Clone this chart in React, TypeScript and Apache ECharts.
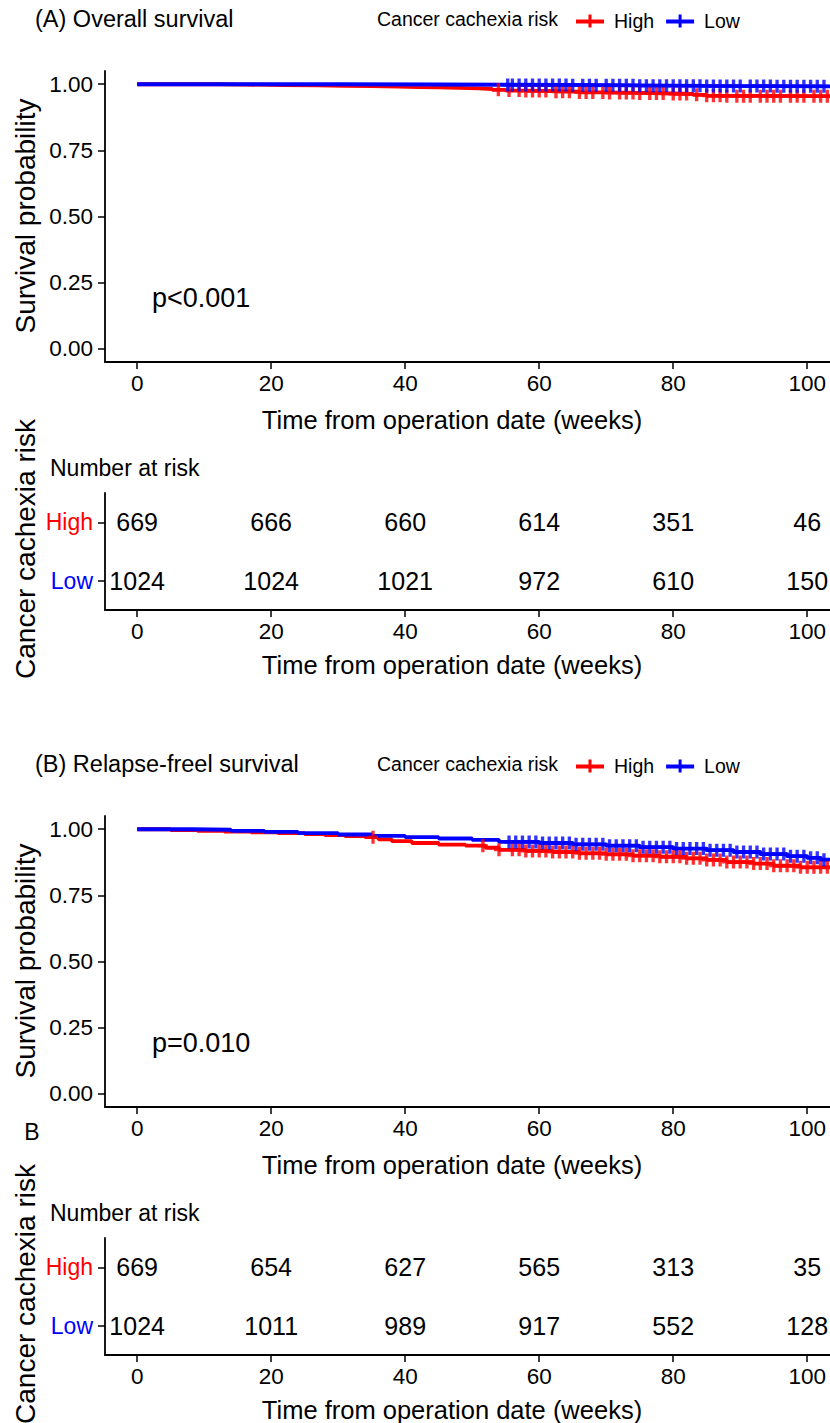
import React, { useEffect, useRef } from "react";
import * as echarts from "echarts";

// ---------- data ----------
const timeTicks = [0, 20, 40, 60, 80, 100];
const survTicks = [0, 0.25, 0.5, 0.75, 1];
const groups = ["Low", "High"];

// Overall survival, Kaplan-Meier steps [week, survival]
const osHigh: [number, number][] = [
  [0, 1], [12, 0.9985], [16, 0.997], [22, 0.9955], [27, 0.994], [31, 0.9925], [35, 0.991],
  [39, 0.9895], [42, 0.988], [45, 0.986], [48, 0.984], [51, 0.982], [53, 0.979], [55, 0.976],
  [58, 0.974], [62, 0.972], [66, 0.969], [70, 0.967], [75, 0.965], [80, 0.963], [83, 0.96],
  [85, 0.956], [88, 0.955], [104, 0.955],
];
const osLow: [number, number][] = [
  [0, 1], [30, 0.999], [45, 0.998], [55, 0.997], [65, 0.996], [75, 0.994], [85, 0.993],
  [95, 0.992], [104, 0.992],
];
const osHighCensor = [53.9, 55.5, 57, 58, 59, 60, 61, 62.5, 63.5, 64.5, 66, 67, 68, 69.5, 70.5, 72, 73, 74, 75,
  76.5, 77.5, 78.5, 80, 81, 82, 83.5, 85, 86, 87, 88, 89.5, 90.5, 91.5, 93, 94, 95, 96, 97.5, 98.5, 99.5,
  101, 102, 103];
const osLowCensor = [55.3, 56, 57, 58, 59, 60, 61, 62, 63, 64, 65, 66.5, 67.5, 68.5, 70, 71, 72, 73, 74, 75, 76,
  77, 78, 79, 80, 81, 82, 83, 84, 85, 86, 87, 88, 89, 90, 91.5, 92.5, 93.5, 94.5, 95.5, 96.5, 97.5, 98.5,
  99.5, 100.5, 101.5, 102.5];

// Relapse-free survival
const rfsHigh: [number, number][] = [
  [0, 1], [5, 0.997], [9, 0.994], [13, 0.991], [17, 0.988], [21, 0.985], [25, 0.982], [28, 0.978],
  [31, 0.974], [34, 0.97], [36, 0.962], [38, 0.955], [41, 0.948], [45, 0.942], [49, 0.938],
  [52, 0.93], [54, 0.922], [58, 0.918], [62, 0.914], [66, 0.909], [70, 0.905], [74, 0.9],
  [78, 0.896], [82, 0.89], [85, 0.884], [88, 0.876], [92, 0.87], [95, 0.862], [99, 0.856], [104, 0.856],
];
const rfsLow: [number, number][] = [
  [0, 1], [8, 0.998], [14, 0.994], [19, 0.99], [24, 0.985], [30, 0.98], [35, 0.975], [40, 0.97],
  [45, 0.965], [50, 0.96], [54, 0.952], [60, 0.948], [65, 0.943], [70, 0.938], [75, 0.932],
  [80, 0.927], [85, 0.921], [89, 0.914], [93, 0.906], [97, 0.898], [100, 0.892], [102, 0.885], [104, 0.885],
];
const rfsHighCensor = [35.2, 51.6, 54, 56, 57, 58, 59, 60, 61, 62, 63, 64, 65, 66, 67, 68, 69, 70, 71, 72, 73,
  74, 75, 76, 77, 78, 79, 80, 81, 82, 83, 84, 85, 86, 87, 88, 89, 90, 91, 92, 93, 94, 95, 96, 97, 98, 99,
  100, 101, 102, 103];
const rfsLowCensor = [55.5, 56.5, 57.5, 58.5, 59.5, 60.5, 61.5, 62.5, 63.5, 64.5, 65.5, 66.5, 67.5, 68.5, 69.5,
  70.5, 71.5, 72.5, 73.5, 74.5, 75.5, 76.5, 77.5, 78.5, 79.5, 80.5, 81.5, 82.5, 83.5, 84.5, 85.5, 86.5,
  87.5, 88.5, 89.5, 90.5, 91.5, 92.5, 93.5, 94.5, 95.5, 96.5, 97.5, 98.5, 99.5, 100.5, 101.5, 102.5];

// Number at risk
const riskOsHigh = [669, 666, 660, 614, 351, 46];
const riskOsLow = [1024, 1024, 1021, 972, 610, 150];
const riskRfsHigh = [669, 654, 627, 565, 313, 35];
const riskRfsLow = [1024, 1011, 989, 917, 552, 128];

// ---------- style ----------
const FONT = "'Liberation Sans', Arial, Helvetica, sans-serif";
const RED = "#FF0000";
const BLUE = "#0000FF";
const OFF = 745;
const PLUS = "path://M4,0h4v13h-4z M0,5h12v3h-12z";
const LEG_ICON = "path://M0,5h28v4h-28z M12.5,0h3v13h-3z";

function survAt(curve: [number, number][], t: number) {
  let s = curve[0][1];
  for (const [x, y] of curve) {
    if (x <= t) s = y;
    else break;
  }
  return s;
}

const axisLine = { show: true, onZero: false, lineStyle: { color: "#000", width: 1.8 } };
const axisTick = { show: true, length: 7, lineStyle: { color: "#000", width: 1.5 } };

function xAxis(gridIndex: number) {
  return {
    type: "value",
    gridIndex,
    min: -4.8,
    max: 103.4,
    axisLine,
    axisTick: { ...axisTick, customValues: timeTicks },
    axisLabel: { customValues: timeTicks, fontSize: 22.5, color: "#000", margin: 10, fontFamily: FONT },
    splitLine: { show: false },
  };
}
function kmY(gridIndex: number) {
  return {
    type: "value",
    gridIndex,
    min: -0.05,
    max: 1.05,
    axisLine,
    axisTick: { ...axisTick, customValues: survTicks },
    axisLabel: {
      customValues: survTicks,
      fontSize: 22.5,
      color: "#000",
      margin: 12,
      fontFamily: FONT,
      formatter: (v: number) => v.toFixed(2),
    },
    splitLine: { show: false },
  };
}
function tableY(gridIndex: number) {
  return {
    type: "category",
    gridIndex,
    data: groups,
    axisLine,
    axisTick: { ...axisTick, alignWithLabel: true },
    axisLabel: {
      margin: 12,
      fontFamily: FONT,
      formatter: (v: string) => `{${v}|${v}}`,
      rich: {
        High: { color: RED, fontSize: 23, fontFamily: FONT },
        Low: { color: BLUE, fontSize: 23, fontFamily: FONT },
      },
    },
    splitLine: { show: false },
  };
}

function kmSeries(axisIdx: number, high: [number, number][], low: [number, number][], hc: number[], lc: number[]) {
  const line = (name: string, data: [number, number][], color: string) => ({
    type: "line",
    name,
    xAxisIndex: axisIdx,
    yAxisIndex: axisIdx,
    data,
    step: "end",
    symbol: "none",
    silent: true,
    lineStyle: { color, width: 3.8 },
    itemStyle: { color },
    z: 2,
  });
  const cens = (name: string, curve: [number, number][], times: number[], color: string) => ({
    type: "scatter",
    name,
    xAxisIndex: axisIdx,
    yAxisIndex: axisIdx,
    data: times.map((t) => [t, survAt(curve, t)]),
    symbol: PLUS,
    symbolSize: [10, 13],
    silent: true,
    itemStyle: { color },
    z: 3,
  });
  return [
    line("High", high, RED),
    cens("High", high, hc, RED),
    line("Low", low, BLUE),
    cens("Low", low, lc, BLUE),
  ];
}

function riskSeries(axisIdx: number, high: number[], low: number[]) {
  const data: any[] = [];
  timeTicks.forEach((t, i) => {
    data.push([t, 1, high[i]]);
    data.push([t, 0, low[i]]);
  });
  return {
    type: "scatter",
    name: "risk" + axisIdx,
    xAxisIndex: axisIdx,
    yAxisIndex: axisIdx,
    data,
    symbol: "circle",
    symbolSize: 1,
    silent: true,
    itemStyle: { color: "#ffffff", opacity: 1 },
    label: {
      show: true,
      position: "inside",
      color: "#000000",
      opacity: 1,
      textBorderWidth: 0,
      textBorderColor: "transparent",
      fontSize: 25,
      fontFamily: FONT,
      formatter: (p: any) => String(p.value[2]),
    },
  };
}

function legend(top: number) {
  return {
    left: 571,
    top,
    orient: "horizontal",
    itemWidth: 28,
    itemHeight: 13,
    itemGap: 12,
    selectedMode: false,
    icon: LEG_ICON,
    data: [
      { name: "High", icon: LEG_ICON, itemStyle: { color: RED } },
      { name: "Low", icon: LEG_ICON, itemStyle: { color: BLUE } },
    ],
    formatter: "{a|{name}}",
    textStyle: {
      color: "#000",
      fontSize: 19.5,
      fontFamily: FONT,
      rich: { a: { padding: [0, 0, 0, 5], fontSize: 19.5, fontFamily: FONT, color: "#000" } },
    },
  };
}

function txt(text: string, x: number, y: number, size: number, opts: any = {}) {
  return {
    type: "text",
    x,
    y,
    rotation: opts.rotation || 0,
    silent: true,
    style: {
      text,
      fill: opts.fill || "#000",
      fontSize: size,
      fontFamily: FONT,
      align: opts.align || "left",
      verticalAlign: "middle",
      textAlign: opts.align || "left",
      textVerticalAlign: "middle",
    },
  };
}

function panelTexts(off: number, title: string, p: string) {
  return [
    txt(title, 35, 19 + off, 23.5),
    txt("Cancer cachexia risk", 377, 19 + off, 19.5),
    txt(p, 152, 298 + off, 27),
    txt("Time from operation date (weeks)", 452, 420 + off, 25.5, { align: "center" }),
    txt("Number at risk", 50, 468 + off, 23),
    txt("Time from operation date (weeks)", 452, 665 + off, 25.5, { align: "center" }),
    txt("Survival probability", 25, 216 + off, 28, { align: "center", rotation: Math.PI / 2 }),
    txt("Cancer cachexia risk", 25, 549 + off, 28, { align: "center", rotation: Math.PI / 2 }),
  ];
}

export default function App() {
  const ref = useRef<HTMLDivElement>(null);
  useEffect(() => {
    if (!ref.current) return;
    const chart = echarts.init(ref.current, undefined, { renderer: "svg" });
    const option: any = {
      animation: false,
      backgroundColor: "#fff",
      textStyle: { fontFamily: FONT },
      legend: [legend(6), legend(6 + OFF)],
      grid: [
        { left: 105, top: 71, width: 725, height: 291 },
        { left: 105, top: 493, width: 725, height: 117 },
        { left: 105, top: 71 + OFF, width: 725, height: 291 },
        { left: 105, top: 493 + OFF, width: 725, height: 117 },
      ],
      xAxis: [xAxis(0), xAxis(1), xAxis(2), xAxis(3)],
      yAxis: [kmY(0), tableY(1), kmY(2), tableY(3)],
      series: [
        ...kmSeries(0, osHigh, osLow, osHighCensor, osLowCensor),
        riskSeries(1, riskOsHigh, riskOsLow),
        ...kmSeries(2, rfsHigh, rfsLow, rfsHighCensor, rfsLowCensor),
        riskSeries(3, riskRfsHigh, riskRfsLow),
      ],
      graphic: [
        ...panelTexts(0, "(A) Overall survival", "p<0.001"),
        ...panelTexts(OFF, "(B) Relapse-freel survival", "p=0.010"),
        txt("B", 32, 1132, 23, { align: "center" }),
      ],
    };
    chart.setOption(option);
    return () => chart.dispose();
  }, []);
  return (
    <div
      ref={ref}
      style={{ position: "absolute", left: 0, top: 0, width: 830, height: 1423, background: "#fff" }}
    />
  );
}
